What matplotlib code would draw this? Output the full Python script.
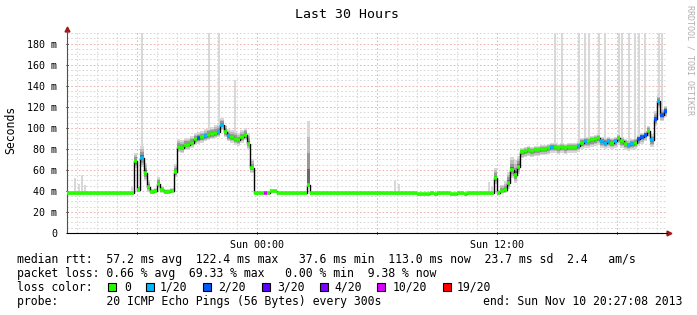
import numpy as np
import matplotlib
matplotlib.use("Agg")
import matplotlib.pyplot as plt
from matplotlib.patches import Rectangle

plt.rcParams['font.family'] = ['DejaVu Sans Mono']
plt.rcParams['lines.scale_dashes'] = False

# 10 minute samples over 30 hours, start Sat 14:30
median = ([38] * 20 +
          [68, 41, 71, 57, 44, 39, 40, 47, 41, 39, 39, 40,
           58, 82, 81, 84, 84, 86, 89, 90, 91, 92, 93, 94,
           95, 96, 103, 96, 92, 91, 89, 88, 91, 93, 85, 62] +
          [38, 38, 38, 38, 38, 39.5, 39.5, 38, 38, 38, 38, 38, 38, 38, 38, 38] +
          [46] +
          [38] * 32 + [37, 37, 37, 37, 38, 37, 38, 38, 38, 38, 37, 37, 38, 38, 37] + [38] * 8 +
          [52, 38, 40, 41, 48, 60, 55, 63] +
          [77, 78, 79, 78, 79, 79, 80, 80, 81, 82, 82, 81, 82, 81, 82,
           82, 82, 83, 86, 87, 87, 88, 89, 90, 87, 86, 87, 86, 87, 90,
           87, 85, 84, 85, 86, 89, 91, 93, 97, 88, 108, 125, 112, 116])

smoke_up = ([0.5] * 20 +
            [8, 3, 12, 10, 6, 3, 3, 6, 4, 3, 3, 3] +
            [8, 7, 7, 6, 6, 6, 6, 6, 6, 7, 7, 7, 8, 8, 6, 7, 7, 7, 8, 7, 7, 7, 10, 8] +
            [0.5] * 16 + [60] + [0.5] * 55 +
            [10, 3, 6, 8, 10, 12, 14, 10] +
            [4] * 38 + [5, 6, 8, 6, 6, 5])

smoke_dn = ([0.5] * 20 +
            [6, 1, 8, 8, 5, 1, 1, 4, 3, 1, 1, 1] +
            [5] * 24 +
            [0.5] * 16 + [2] + [0.5] * 55 +
            [5, 0.5, 1, 3, 6, 8, 7, 7] +
            [6] * 44)

spike_idx = [2, 3, 4, 5, 19, 22, 42, 45, 50, 98, 99, 126, 127,
             146, 148, 153, 155, 156, 159, 161, 165, 166, 168, 170, 171, 173, 177, 178]
spike_top = [52, 47, 55, 46, 44, 190, 190, 190, 145, 50, 47, 48, 45,
             190, 190, 190, 190, 190, 190, 190, 190, 190, 190, 190, 190, 190, 190, 190]

loss_idx = [22, 39, 41, 45, 46, 48, 59, 145, 153, 155, 160, 161, 162, 164,
            168, 169, 171, 172, 173, 175, 176, 177, 178, 179]
loss_val = [1, 2, 1, 1, 1, 1, 10, 1, 1, 1, 1, 1, 1, 1,
            1, 1, 2, 2, 2, 1, 2, 1, 2, 2]

loss_labels = ['0', '1/20', '2/20', '3/20', '4/20', '10/20', '19/20']
loss_levels = [0, 1, 2, 3, 4, 10, 19]
loss_colors = ['#26ff00', '#00b8ff', '#0059ff', '#5e00ff', '#7e00ff', '#dd00ff', '#ff0000']

N = len(median)
med = np.array(median, dtype=float)
up = np.array(smoke_up, dtype=float)
dn = np.array(smoke_dn, dtype=float)
loss = np.zeros(N, dtype=int)
loss[loss_idx] = loss_val
t = np.arange(N + 1) / 6.0

W, H = 697, 315
fig = plt.figure(figsize=(W / 100, H / 100), dpi=100)
ax = fig.add_axes([67 / W, 82 / H, 600 / W, 202 / H])
ax.set_xlim(0, 30)
ax.set_ylim(0, 192)

# grid
for y in np.arange(5, 192, 5):
    major = (y % 20 == 0)
    ax.axhline(y, color='#eeb0b0' if major else '#d8d8d8', lw=0.7,
               ls=(0, (1.2, 1.5)), zorder=0)
for h in np.arange(0.5, 30, 1.0):
    major = ((h - 3.5) % 6 == 0)
    ax.axvline(h, color='#eeb0b0' if major else '#d8d8d8', lw=0.7,
               ls=(0, (1.2, 1.5)), zorder=0)

# tall light smoke
dt = 1 / 6.0
for i, top in zip(spike_idx, spike_top):
    ax.bar(t[i] + dt / 2, top - med[i], bottom=med[i], width=dt * 0.6,
           color='#d8d8d8', lw=0, zorder=1)

# dense smoke layers
medp = np.append(med, med[-1])
upp = np.append(up, up[-1])
dnp = np.append(dn, dn[-1])
for k, c in zip([1.0, 0.75, 0.5, 0.25], ['#d8d8d8', '#bcbcbc', '#989898', '#686868']):
    ax.fill_between(t, medp - dnp * k, medp + upp * k, step='post', color=c, lw=0, zorder=2)

# median line
ax.step(t, medp, where='post', color='black', lw=1.0, zorder=3)
seg_colors = [loss_colors[max(j for j, lv in enumerate(loss_levels) if lv <= l)] for l in loss]
ax.hlines(med, t[:-1], t[1:], colors=seg_colors, lw=2.6, zorder=4)

# axes
for s in ['top', 'right']:
    ax.spines[s].set_visible(False)
ax.spines['left'].set_color('#505050')
ax.spines['bottom'].set_color('black')
ax.spines['left'].set_linewidth(0.8)
ax.spines['bottom'].set_linewidth(0.8)
ax.plot([0], [1.012], marker='^', color='#a01818', ms=3.5, transform=ax.transAxes, clip_on=False)
ax.plot([1.004], [0], marker='>', color='#a01818', ms=3.5, transform=ax.transAxes, clip_on=False)

yt = np.arange(0, 181, 20)
ax.set_yticks(yt)
ax.set_yticklabels(['0'] + ['%d m' % v for v in yt[1:]])
ax.set_xticks([3.5, 9.5, 15.5, 21.5, 27.5])
ax.set_xticklabels(['', 'Sun 00:00', '', 'Sun 12:00', ''])
ax.tick_params(axis='both', length=2, width=0.7, direction='inout', labelsize=7.2,
               colors='black', pad=4)
ax.tick_params(axis='y', pad=6)

fig.text(11 / W, 1 - 130 / H, 'Seconds', rotation=90, ha='center', va='center', fontsize=8.3)
fig.text(347 / W, 1 - 18.5 / H, 'Last 30 Hours', ha='center', va='baseline', fontsize=9.5)
fig.text(690 / W, 1 - 5 / H, 'RRDTOOL / TOBI OETIKER', rotation=270, ha='center', va='top',
         fontsize=6, color='#b0b0b0')

fs = 8.3
fig.text(17 / W, 1 - 263 / H,
         'median rtt:  57.2 ms avg  122.4 ms max   37.6 ms min  113.0 ms now  23.7 ms sd  2.4   am/s',
         va='baseline', fontsize=fs)
fig.text(17 / W, 1 - 277 / H,
         'packet loss: 0.66 % avg  69.33 % max   0.00 % min  9.38 % now',
         va='baseline', fontsize=fs)
fig.text(17 / W, 1 - 291 / H, 'loss color:', va='baseline', fontsize=fs)
box_x = [108, 146, 203, 262, 320, 377, 443]
lab_x = [124, 160, 218, 277, 334, 393, 457]
for bx, lx, lab, c in zip(box_x, lab_x, loss_labels, loss_colors):
    fig.add_artist(Rectangle((bx / W, 1 - 291 / H), 8 / W, 8 / H, transform=fig.transFigure,
                             facecolor=c, edgecolor='black', lw=0.8))
    fig.text(lx / W, 1 - 291 / H, lab, va='baseline', fontsize=fs)
fig.text(17 / W, 1 - 305 / H, 'probe:       20 ICMP Echo Pings (56 Bytes) every 300s',
         va='baseline', fontsize=fs)
fig.text(682 / W, 1 - 305 / H, 'end: Sun Nov 10 20:27:08 2013', ha='right',
         va='baseline', fontsize=fs)

fig.savefig('out.png', dpi=100, facecolor='white')
